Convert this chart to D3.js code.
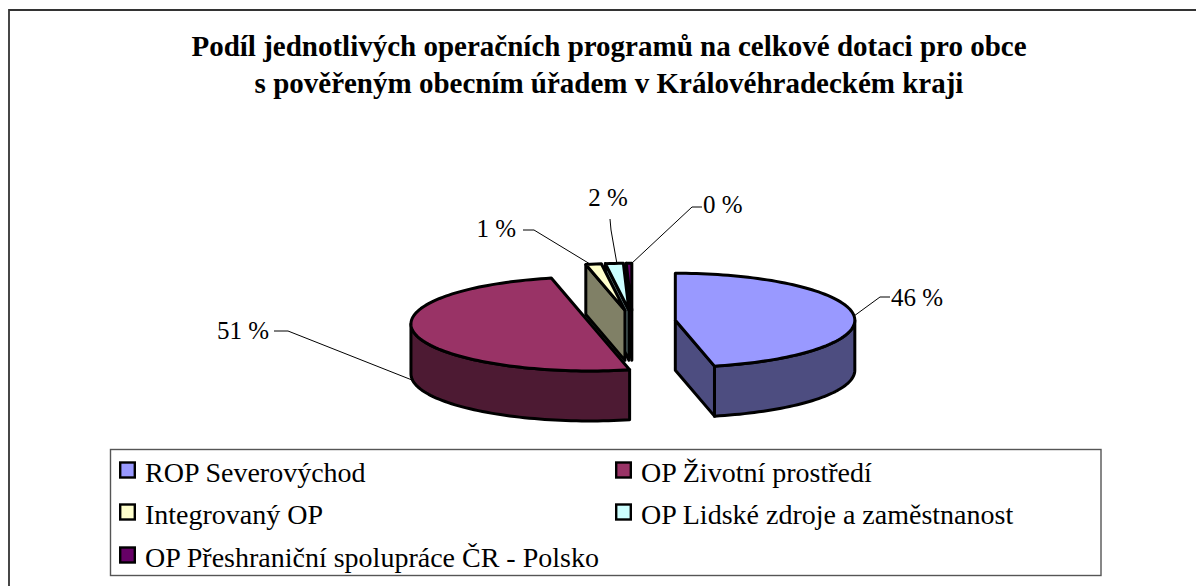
<!DOCTYPE html>
<html><head><meta charset="utf-8">
<script src="https://cdn.jsdelivr.net/npm/d3@7/dist/d3.min.js"></script>
<style>html,body{margin:0;padding:0;background:#fff}svg{display:block}text{font-family:"Liberation Serif","Times New Roman",serif;fill:#000}</style>
</head><body><svg id="c" width="1196" height="586"></svg>
<script>
const categories=["ROP Severovýchod","OP Životní prostředí","Integrovaný OP","OP Lidské zdroje a zaměstnanost","OP Přeshraniční spolupráce ČR - Polsko"];
const values=[46.5,50.0,1.4,1.6,0.5];
const labels=["46 %","51 %","1 %","2 %","0 %"];
const topColors=["#9999ff","#993366","#ffffcc","#ccffff","#660066"];
const sideColors=["#4d4d80","#4d1a33","#808066","#668080","#330033"];
const titleLines=["Podíl jednotlivých operačních programů na celkové dotaci pro obce","s pověřeným obecním úřadem v Královéhradeckém kraji"];

const svg=d3.select("#c");
const rx=179.5,ry=47,depth=50,explode=0.24,cx=632.5,cy=321.5;
const x=d3.scaleLinear().domain([-1,1]).range([cx-rx,cx+rx]);
const y=d3.scaleLinear().domain([-1,1]).range([cy-ry,cy+ry]);
const arcs=d3.pie().sort(null).value(d=>d)(values);

// the frame shows only its top and left edges in the crop
svg.append("path").attr("d","M9,586V10H1196").attr("fill","none").attr("stroke","#333").attr("stroke-width",1.8);
svg.selectAll("text.title").data(titleLines).join("text").attr("class","title")
  .attr("x",609).attr("y",(d,i)=>56+i*37).attr("text-anchor","middle").attr("font-size",29).attr("font-weight","bold").text(d=>d);

function pt(a,ox,oy,r=1){return [x(ox+r*Math.sin(a)),y(oy-r*Math.cos(a))];}
function arcPts(a0,a1,ox,oy,dy=0){const n=Math.max(2,Math.ceil((a1-a0)/0.03));const p=[];for(let i=0;i<=n;i++){const t=a0+(a1-a0)*i/n;const q=pt(t,ox,oy);p.push([q[0],q[1]+dy]);}return p;}
const line=d3.line();
const order=[4,3,2,1,0];
const g=svg.append("g").attr("stroke","#000").attr("stroke-width",3).attr("stroke-linejoin","round");
order.forEach(i=>{
  const d=arcs[i],m=(d.startAngle+d.endAngle)/2;
  const ox=explode*Math.sin(m),oy=-explode*Math.cos(m);
  const c=pt(0,ox,oy,0);
  const a0=Math.max(d.startAngle,Math.PI/2),a1=Math.min(d.endAngle,3*Math.PI/2);
  if(a1>a0){const t=arcPts(a0,a1,ox,oy),b=arcPts(a0,a1,ox,oy,depth).reverse();
    g.append("path").attr("d",line(t.concat(b))+"Z").attr("fill",sideColors[i]);}
  [[d.endAngle,d.endAngle<Math.PI],[d.startAngle,d.startAngle>Math.PI]].forEach(([a,vis])=>{
    if(!vis)return;const e=pt(a,ox,oy);
    g.append("path").attr("d",line([c,e,[e[0],e[1]+depth],[c[0],c[1]+depth]])+"Z").attr("fill",sideColors[i]);
  });
  g.append("path").attr("d",line([c].concat(arcPts(d.startAngle,d.endAngle,ox,oy)))+"Z").attr("fill",topColors[i]);
});

const leaders=[
 {t:labels[0],tx:891,ty:306,a:"start",p:[[854,316],[880,297],[890,297]]},
 {t:labels[1],tx:269,ty:339,a:"end",p:[[412,380],[288,331],[274,331]]},
 {t:labels[2],tx:516,ty:237,a:"end",p:[[590,264],[534,230],[523,230]]},
 {t:labels[3],tx:608,ty:206,a:"middle",p:[[617,264],[611,230],[610,219]]},
 {t:labels[4],tx:703,ty:213,a:"start",p:[[631,264],[692,207],[702,207]]}
];
svg.append("g").selectAll("path").data(leaders).join("path").attr("d",d=>line(d.p)).attr("fill","none").attr("stroke","#000").attr("stroke-width",1);
svg.append("g").selectAll("text").data(leaders).join("text").attr("x",d=>d.tx).attr("y",d=>d.ty).attr("text-anchor",d=>d.a).attr("font-size",25).text(d=>d.t);

svg.append("rect").attr("x",110.5).attr("y",449.5).attr("width",990.5).attr("height",126).attr("fill","#fff").attr("stroke","#555").attr("stroke-width",1.4);
const lx=[119,615],ly=[472,514,557];
const lg=svg.append("g").selectAll("g").data(categories).join("g").attr("transform",(d,i)=>`translate(${lx[i%2]},${ly[Math.floor(i/2)]})`);
lg.append("rect").attr("x",1.2).attr("y",-9.5).attr("width",14.6).attr("height",15).attr("fill",(d,i)=>topColors[i]).attr("stroke","#000").attr("stroke-width",2.4);
lg.append("text").attr("x",26).attr("y",10).attr("font-size",28).text(d=>d);
</script></body></html>
